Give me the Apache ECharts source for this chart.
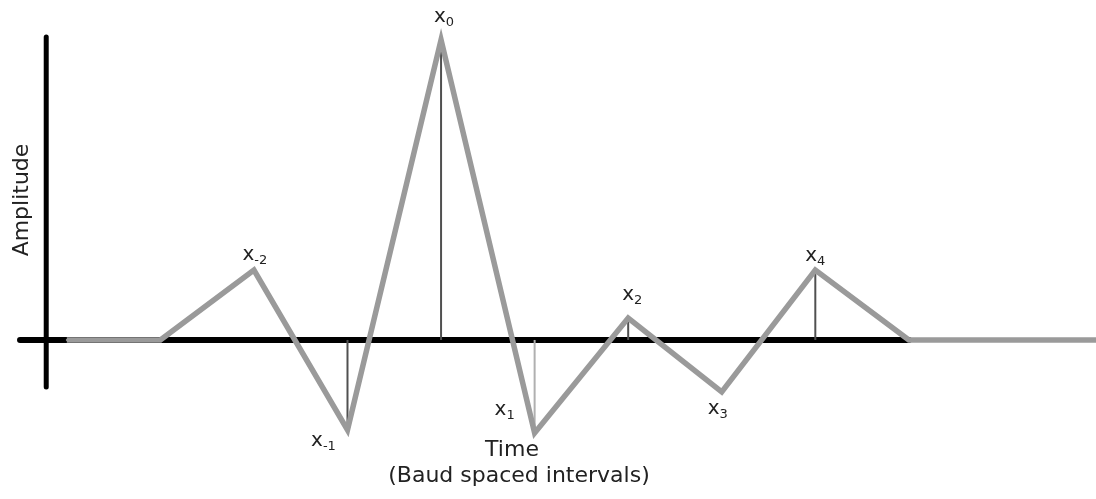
<!DOCTYPE html>
<html><head><meta charset="utf-8">
<script src="https://cdn.jsdelivr.net/npm/echarts@6/dist/echarts.min.js"></script>
<style>html,body{margin:0;padding:0;background:#fff}#c{width:1096px;height:499px}</style>
</head><body><div id="c"></div>
<script>
// Time in baud intervals, amplitude normalised to the main tap x0
const times = [-4, -3, -2, -1, 0, 1, 2, 3, 4, 5, 7];
const amplitudes = [0, 0, 0.233, -0.30, 1.0, -0.31, 0.073, -0.173, 0.233, 0, 0];
const sampleNames = [null, null, '-2', '-1', '0', '1', '2', '3', '4', null, null];
const stemTimes = [-1, 0, 1, 2, 4];
const timeAxisLine = [[-4.5, 0], [5, 0]];
const amplitudeAxisLine = [[-4.22, -0.157], [-4.22, 1.01]];
const xTitle = ['Time', '(Baud spaced intervals)'];
const yTitle = 'Amplitude';

const labelOffset = {'-2':[1,-15], '-1':[-24,11], '0':[3,-23], '1':[-30,-23], '2':[4,-23], '3':[-4,17], '4':[0,-14]};
const FONT = '"DejaVu Sans", sans-serif';

const lineData = times.map((t, i) => {
  const name = sampleNames[i];
  const item = { value: [t, amplitudes[i]] };
  if (name !== null) {
    const o = labelOffset[name];
    item.label = {
      show: true, position: [o[0] + 1, o[1] + 1], align: 'center', verticalAlign: 'middle',
      formatter: '{x|x}{s|' + name + '}'
    };
  }
  return item;
});

const stemData = stemTimes.map(t => {
  const v = amplitudes[times.indexOf(t)];
  return { value: [t, v], itemStyle: { color: t === 1 ? '#b0b0b0' : '#505050' } };
});

const chart = echarts.init(document.getElementById('c'), null, { renderer: 'canvas' });
chart.setOption({
  animation: false,
  backgroundColor: '#ffffff',
  grid: { left: 0, right: 0, top: 0, bottom: 0 },
  xAxis: { type: 'value', min: -4.714, max: 7.0, show: false },
  yAxis: { type: 'value', min: -0.53, max: 1.133, show: false },
  series: [
    { type: 'line', data: timeAxisLine, symbol: 'none', silent: true, z: 1,
      lineStyle: { color: '#000', width: 6, cap: 'round' } },
    { type: 'line', data: amplitudeAxisLine, symbol: 'none', silent: true, z: 1,
      lineStyle: { color: '#000', width: 5, cap: 'round' } },
    { type: 'bar', data: stemData, barWidth: 2, z: 2, silent: true },
    { type: 'line', data: lineData, z: 3, symbol: 'circle', symbolSize: 2,
      itemStyle: { color: '#9a9a9a' },
      lineStyle: { color: '#9a9a9a', width: 5.5, join: 'miter' },
      label: {
        show: false,
        rich: {
          x: { fontFamily: FONT, fontSize: 20, color: '#222', lineHeight: 24, verticalAlign: 'middle' },
          s: { fontFamily: FONT, fontSize: 13, color: '#222', lineHeight: 13, verticalAlign: 'bottom' }
        }
      }
    }
  ],
  graphic: [
    { type: 'text', x: 512, y: 450, style: { text: xTitle[0], font: '22px ' + FONT, fill: '#222', textAlign: 'center', textVerticalAlign: 'middle' } },
    { type: 'text', x: 519, y: 476, style: { text: xTitle[1], font: '22px ' + FONT, fill: '#222', textAlign: 'center', textVerticalAlign: 'middle' } },
    { type: 'text', x: 22, y: 200, rotation: Math.PI / 2, style: { text: yTitle, font: '22px ' + FONT, fill: '#222', textAlign: 'center', textVerticalAlign: 'middle' } }
  ]
});
</script></body></html>
